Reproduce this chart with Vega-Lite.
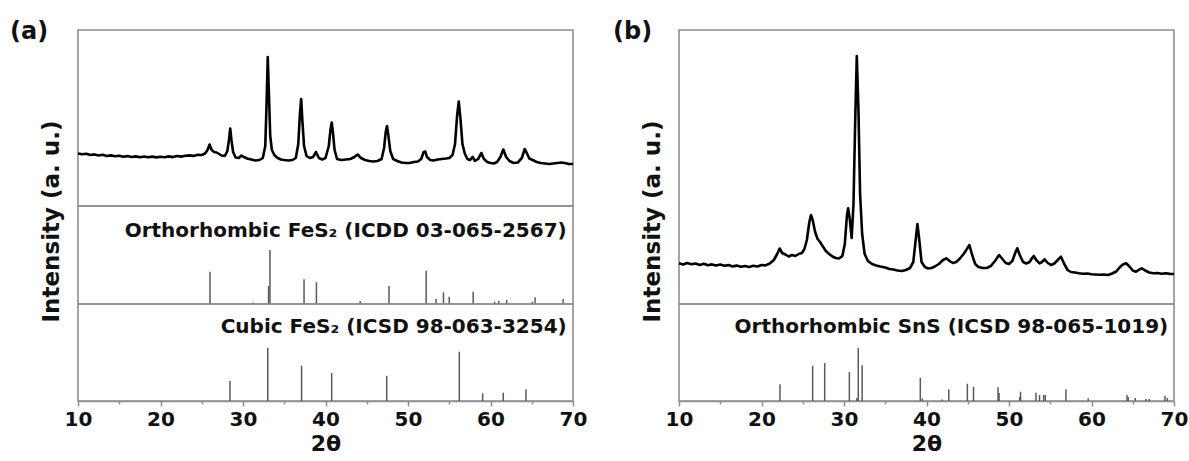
{
  "$schema": "https://vega.github.io/schema/vega-lite/v6.json",
  "autosize": {"type": "pad"},
  "padding": {"left": 10, "top": 20, "right": 5, "bottom": 5},
  "background": "white",
  "spacing": 25,
  "config": {
    "view": {"stroke": "#8f8f8f", "strokeWidth": 1.6},
    "font": "DejaVu Sans",
    "axis": {"grid": false, "labelFont": "DejaVu Sans", "titleFont": "DejaVu Sans", "labelFontWeight": "bold", "titleFontWeight": "bold", "labelColor": "#111", "titleColor": "#111"},
    "title": {"font": "DejaVu Sans", "fontWeight": "bold", "fontSize": 24, "color": "#111"}
  },
  "datasets": {
    "curveA": [
      {"t":10.0,"i":52.5},{"t":10.5,"i":51.8},{"t":11.0,"i":52.3},{"t":11.5,"i":51.0},{"t":12.0,"i":51.6},{"t":12.5,"i":50.5},{"t":13.0,"i":51.2},{"t":13.5,"i":50.0},{"t":14.0,"i":50.6},{"t":14.5,"i":49.8},{"t":15.0,"i":50.3},{"t":15.5,"i":49.2},{"t":16.0,"i":49.9},{"t":16.5,"i":49.0},{"t":17.0,"i":49.6},{"t":17.5,"i":48.8},{"t":18.0,"i":49.5},{"t":18.5,"i":48.7},{"t":19.0,"i":49.4},{"t":19.5,"i":48.6},{"t":20.0,"i":49.3},{"t":20.5,"i":48.8},{"t":21.0,"i":49.6},{"t":21.5,"i":48.9},{"t":22.0,"i":50.0},{"t":22.5,"i":49.4},{"t":23.0,"i":50.2},{"t":23.5,"i":50.6},{"t":24.0,"i":50.1},{"t":24.5,"i":51.2},{"t":25.0,"i":51.0},{"t":25.4,"i":52.5},{"t":25.7,"i":56},{"t":25.95,"i":61.5},{"t":26.2,"i":56},{"t":26.5,"i":54},{"t":26.8,"i":53.5},{"t":27.1,"i":52},{"t":27.4,"i":50.5},{"t":27.8,"i":50},{"t":28.1,"i":55},{"t":28.3,"i":66},{"t":28.45,"i":77.5},{"t":28.6,"i":66},{"t":28.8,"i":54},{"t":29.1,"i":48.5},{"t":29.5,"i":48},{"t":29.8,"i":50.5},{"t":30.1,"i":49},{"t":30.5,"i":47.5},{"t":31.0,"i":46.5},{"t":31.5,"i":45.5},{"t":32.0,"i":46},{"t":32.4,"i":48},{"t":32.7,"i":60},{"t":32.85,"i":100},{"t":33.0,"i":149},{"t":33.15,"i":110},{"t":33.3,"i":70},{"t":33.5,"i":56},{"t":33.8,"i":51},{"t":34.2,"i":48},{"t":34.6,"i":46.5},{"t":35.0,"i":46},{"t":35.5,"i":45.5},{"t":36.0,"i":46},{"t":36.4,"i":48},{"t":36.7,"i":62},{"t":36.9,"i":92},{"t":37.05,"i":107},{"t":37.2,"i":85},{"t":37.4,"i":60},{"t":37.7,"i":50},{"t":38.1,"i":48},{"t":38.5,"i":49},{"t":38.85,"i":54},{"t":39.2,"i":48},{"t":39.6,"i":46.5},{"t":40.0,"i":48},{"t":40.4,"i":60},{"t":40.6,"i":76},{"t":40.75,"i":83.5},{"t":40.9,"i":74},{"t":41.1,"i":56},{"t":41.4,"i":47},{"t":41.9,"i":46},{"t":42.5,"i":46.5},{"t":43.0,"i":47},{"t":43.5,"i":49},{"t":43.9,"i":51.5},{"t":44.3,"i":48},{"t":44.8,"i":46},{"t":45.3,"i":45},{"t":45.8,"i":44.5},{"t":46.3,"i":45},{"t":46.8,"i":47},{"t":47.1,"i":58},{"t":47.3,"i":74},{"t":47.45,"i":80},{"t":47.6,"i":72},{"t":47.85,"i":55},{"t":48.2,"i":47},{"t":48.7,"i":45},{"t":49.2,"i":43.5},{"t":49.7,"i":43},{"t":50.2,"i":43},{"t":50.7,"i":44},{"t":51.2,"i":44.5},{"t":51.6,"i":47},{"t":51.9,"i":54},{"t":52.1,"i":54.5},{"t":52.3,"i":49},{"t":52.7,"i":46},{"t":53.1,"i":45.5},{"t":53.6,"i":46.5},{"t":54.1,"i":47},{"t":54.6,"i":47.5},{"t":55.0,"i":48},{"t":55.4,"i":51},{"t":55.7,"i":62},{"t":55.95,"i":90},{"t":56.15,"i":104.5},{"t":56.35,"i":88},{"t":56.6,"i":62},{"t":56.9,"i":52},{"t":57.2,"i":47},{"t":57.5,"i":46},{"t":57.85,"i":49},{"t":58.1,"i":45},{"t":58.5,"i":47},{"t":58.9,"i":53},{"t":59.2,"i":47},{"t":59.6,"i":44},{"t":60.0,"i":43},{"t":60.4,"i":42.5},{"t":60.8,"i":44},{"t":61.2,"i":49},{"t":61.55,"i":56.5},{"t":61.9,"i":49},{"t":62.3,"i":45},{"t":62.8,"i":43},{"t":63.3,"i":43.5},{"t":63.8,"i":48},{"t":64.15,"i":57},{"t":64.4,"i":53},{"t":64.7,"i":47.5},{"t":65.1,"i":46},{"t":65.6,"i":44},{"t":66.1,"i":43},{"t":66.6,"i":42.5},{"t":67.1,"i":42},{"t":67.6,"i":42.5},{"t":68.1,"i":43},{"t":68.6,"i":43.5},{"t":69.0,"i":43},{"t":69.5,"i":42},{"t":70.0,"i":42}
    ],
    "stickOrtho": [
      {"t":26.0,"i":32.3},{"t":31.25,"i":1.5},{"t":33.1,"i":18},{"t":33.27,"i":54},{"t":37.4,"i":24.7},{"t":38.9,"i":21.7},{"t":44.2,"i":3},{"t":47.7,"i":18},{"t":52.2,"i":33.3},{"t":53.4,"i":5},{"t":54.3,"i":11.7},{"t":55.0,"i":7.3},{"t":57.9,"i":12.3},{"t":60.5,"i":2.3},{"t":61.0,"i":3.3},{"t":61.96,"i":4},{"t":65.07,"i":2.3},{"t":65.4,"i":6.7},{"t":68.8,"i":5}
    ],
    "stickCubic": [
      {"t":28.42,"i":20},{"t":33.0,"i":53.3},{"t":37.1,"i":35.3},{"t":40.75,"i":28},{"t":47.42,"i":25.3},{"t":56.22,"i":49.3},{"t":59.05,"i":7.7},{"t":61.55,"i":8.3},{"t":64.3,"i":11.7}
    ],
    "curveB": [
      {"t":10.0,"i":40.7},{"t":10.5,"i":39.5},{"t":11.0,"i":41.0},{"t":11.5,"i":39.8},{"t":12.0,"i":40.5},{"t":12.5,"i":39.0},{"t":13.0,"i":40.2},{"t":13.5,"i":38.8},{"t":14.0,"i":39.6},{"t":14.5,"i":38.5},{"t":15.0,"i":39.4},{"t":15.5,"i":38.2},{"t":16.0,"i":38.9},{"t":16.5,"i":37.6},{"t":17.0,"i":38.4},{"t":17.5,"i":37.2},{"t":18.0,"i":38.0},{"t":18.5,"i":37.0},{"t":19.0,"i":38.2},{"t":19.5,"i":37.5},{"t":20.0,"i":39.0},{"t":20.5,"i":38.6},{"t":21.0,"i":40.5},{"t":21.5,"i":44},{"t":21.9,"i":50},{"t":22.2,"i":55.5},{"t":22.5,"i":51},{"t":22.9,"i":49.5},{"t":23.3,"i":47.5},{"t":23.7,"i":49},{"t":24.1,"i":48},{"t":24.5,"i":50},{"t":24.9,"i":51},{"t":25.2,"i":55},{"t":25.5,"i":64},{"t":25.8,"i":82},{"t":26.0,"i":89},{"t":26.2,"i":84},{"t":26.5,"i":72},{"t":26.8,"i":65},{"t":27.1,"i":62},{"t":27.4,"i":58},{"t":27.8,"i":53},{"t":28.2,"i":50},{"t":28.6,"i":47.5},{"t":29.0,"i":46},{"t":29.4,"i":45.5},{"t":29.8,"i":48},{"t":30.1,"i":60},{"t":30.35,"i":88},{"t":30.5,"i":95.7},{"t":30.7,"i":85},{"t":30.93,"i":66},{"t":31.15,"i":100},{"t":31.35,"i":180},{"t":31.55,"i":248},{"t":31.75,"i":195},{"t":31.95,"i":110},{"t":32.2,"i":70},{"t":32.5,"i":50},{"t":32.9,"i":43},{"t":33.4,"i":40},{"t":33.9,"i":38.5},{"t":34.4,"i":37.5},{"t":35.0,"i":36.5},{"t":35.5,"i":35},{"t":36.0,"i":34.5},{"t":36.5,"i":33.5},{"t":37.0,"i":33},{"t":37.5,"i":34},{"t":38.0,"i":36},{"t":38.4,"i":42},{"t":38.7,"i":65},{"t":38.9,"i":80},{"t":39.1,"i":66},{"t":39.4,"i":42},{"t":39.8,"i":37},{"t":40.2,"i":35.5},{"t":40.6,"i":36},{"t":41.0,"i":37.5},{"t":41.5,"i":40},{"t":42.0,"i":44},{"t":42.4,"i":45.7},{"t":42.8,"i":43},{"t":43.2,"i":41},{"t":43.6,"i":42},{"t":44.0,"i":45},{"t":44.5,"i":50},{"t":44.9,"i":55},{"t":45.2,"i":59},{"t":45.5,"i":50},{"t":45.9,"i":40},{"t":46.3,"i":37},{"t":46.8,"i":36},{"t":47.3,"i":36},{"t":47.8,"i":38},{"t":48.3,"i":43},{"t":48.8,"i":49},{"t":49.2,"i":45},{"t":49.6,"i":41},{"t":50.0,"i":40},{"t":50.4,"i":43},{"t":50.8,"i":52},{"t":51.0,"i":55.7},{"t":51.3,"i":49},{"t":51.7,"i":42},{"t":52.1,"i":40.5},{"t":52.5,"i":42},{"t":52.8,"i":46},{"t":53.0,"i":48},{"t":53.3,"i":44},{"t":53.7,"i":40.7},{"t":54.0,"i":42},{"t":54.3,"i":44.7},{"t":54.7,"i":41},{"t":55.1,"i":39},{"t":55.5,"i":40.5},{"t":55.9,"i":44},{"t":56.3,"i":47.3},{"t":56.7,"i":40},{"t":57.1,"i":34},{"t":57.5,"i":32},{"t":58.0,"i":31.5},{"t":58.5,"i":30.8},{"t":59.0,"i":30.2},{"t":59.5,"i":30.5},{"t":60.0,"i":29.8},{"t":60.5,"i":29.5},{"t":61.0,"i":29.2},{"t":61.5,"i":29.5},{"t":62.0,"i":29},{"t":62.5,"i":30.5},{"t":63.0,"i":32.5},{"t":63.4,"i":36.5},{"t":63.8,"i":39.5},{"t":64.2,"i":40.7},{"t":64.6,"i":37.5},{"t":65.0,"i":33.5},{"t":65.4,"i":32.3},{"t":65.8,"i":34.5},{"t":66.1,"i":35.7},{"t":66.5,"i":33.5},{"t":67.0,"i":31.5},{"t":67.5,"i":30.7},{"t":68.0,"i":31},{"t":68.5,"i":30.2},{"t":69.0,"i":30.8},{"t":69.5,"i":30.1},{"t":70.0,"i":30}
    ],
    "stickSnS": [
      {"t":22.24,"i":16.7},{"t":26.2,"i":35.3},{"t":27.66,"i":38},{"t":30.65,"i":29},{"t":31.55,"i":3},{"t":31.73,"i":53.3},{"t":32.2,"i":35.7},{"t":39.25,"i":23.3},{"t":39.5,"i":2.7},{"t":41.9,"i":1.5},{"t":42.7,"i":11.7},{"t":44.95,"i":17.3},{"t":45.7,"i":14},{"t":48.67,"i":13.7},{"t":48.8,"i":8},{"t":51.3,"i":4},{"t":51.4,"i":9.3},{"t":53.27,"i":8.3},{"t":53.7,"i":6},{"t":54.2,"i":6},{"t":54.4,"i":6},{"t":56.9,"i":11.7},{"t":59.6,"i":2.7},{"t":64.3,"i":6},{"t":64.45,"i":4},{"t":65.3,"i":3},{"t":66.6,"i":2},{"t":67.0,"i":2},{"t":68.9,"i":5.3},{"t":69.2,"i":3}
    ]
  },
  "hconcat": [
    {
      "title": {"text": "(a)", "anchor": "start", "frame": "group", "dx": -68, "dy": 15, "offset": 0},
      "bounds": "flush",
      "spacing": 0,
      "vconcat": [
        {
          "width": 495, "height": 176,
          "data": {"name": "curveA"},
          "mark": {"type": "line", "color": "#000", "strokeWidth": 2.6, "strokeJoin": "round"},
          "encoding": {
            "x": {"field": "t", "type": "quantitative", "scale": {"domain": [10, 70], "nice": false}, "axis": null},
            "y": {"field": "i", "type": "quantitative", "scale": {"domain": [0, 176], "nice": false}, "axis": {"title": "Intensity (a. u.)", "labels": false, "ticks": false, "domain": false, "titleY": 191, "titlePadding": 15, "titleFontSize": 23}}
          }
        },
        {
          "width": 495, "height": 98,
          "layer": [
            {
              "data": {"name": "stickOrtho"},
              "mark": {"type": "rule", "color": "#5a5a5a", "strokeWidth": 1.5},
              "encoding": {
                "x": {"field": "t", "type": "quantitative", "scale": {"domain": [10, 70], "nice": false}, "axis": null},
                "y": {"field": "i", "type": "quantitative", "scale": {"domain": [0, 98], "nice": false}, "axis": null},
                "y2": {"datum": 0}
              }
            },
            {
              "data": {"values": [{}]},
              "mark": {"type": "text", "align": "right", "baseline": "alphabetic", "fontSize": 20, "font": "DejaVu Sans", "fontWeight": "bold", "color": "#111"},
              "encoding": {
                "x": {"datum": 69.24, "type": "quantitative"},
                "y": {"datum": 67.3, "type": "quantitative"},
                "text": {"value": "Orthorhombic FeS₂ (ICDD 03-065-2567)"}
              }
            }
          ]
        },
        {
          "width": 495, "height": 97,
          "layer": [
            {
              "data": {"name": "stickCubic"},
              "mark": {"type": "rule", "color": "#5a5a5a", "strokeWidth": 1.5},
              "encoding": {
                "x": {"field": "t", "type": "quantitative", "scale": {"domain": [10, 70], "nice": false},
                  "axis": {"title": "2θ", "values": [10, 15, 20, 25, 30, 35, 40, 45, 50, 55, 60, 65, 70], "labelExpr": "datum.value % 10 === 0 ? datum.label : ''", "labelFlush": false, "labelOverlap": false, "labelFontSize": 20, "titleFontSize": 22, "domainColor": "#8f8f8f", "domainWidth": 1.6, "tickColor": "#8f8f8f", "tickWidth": 1.5, "tickSize": {"condition": {"test": "datum.value % 10 !== 0", "value": 3}, "value": 5}, "labelPadding": 3, "titlePadding": 4}},
                "y": {"field": "i", "type": "quantitative", "scale": {"domain": [0, 97], "nice": false}, "axis": null},
                "y2": {"datum": 0}
              }
            },
            {
              "data": {"values": [{}]},
              "mark": {"type": "text", "align": "right", "baseline": "alphabetic", "fontSize": 20, "font": "DejaVu Sans", "fontWeight": "bold", "color": "#111"},
              "encoding": {
                "x": {"datum": 69.24, "type": "quantitative"},
                "y": {"datum": 67.7, "type": "quantitative"},
                "text": {"value": "Cubic FeS₂ (ICSD 98-063-3254)"}
              }
            }
          ]
        }
      ]
    },
    {
      "title": {"text": "(b)", "anchor": "start", "frame": "group", "dx": -66, "dy": 15, "offset": 0},
      "bounds": "flush",
      "spacing": 0,
      "vconcat": [
        {
          "width": 495, "height": 274,
          "data": {"name": "curveB"},
          "mark": {"type": "line", "color": "#000", "strokeWidth": 2.6, "strokeJoin": "round"},
          "encoding": {
            "x": {"field": "t", "type": "quantitative", "scale": {"domain": [10, 70], "nice": false}, "axis": null},
            "y": {"field": "i", "type": "quantitative", "scale": {"domain": [0, 274], "nice": false}, "axis": {"title": "Intensity (a. u.)", "labels": false, "ticks": false, "domain": false, "titleY": 191, "titlePadding": 15, "titleFontSize": 23}}
          }
        },
        {
          "width": 495, "height": 97,
          "layer": [
            {
              "data": {"name": "stickSnS"},
              "mark": {"type": "rule", "color": "#5a5a5a", "strokeWidth": 1.5},
              "encoding": {
                "x": {"field": "t", "type": "quantitative", "scale": {"domain": [10, 70], "nice": false},
                  "axis": {"title": "2θ", "values": [10, 15, 20, 25, 30, 35, 40, 45, 50, 55, 60, 65, 70], "labelExpr": "datum.value % 10 === 0 ? datum.label : ''", "labelFlush": false, "labelOverlap": false, "labelFontSize": 20, "titleFontSize": 22, "domainColor": "#8f8f8f", "domainWidth": 1.6, "tickColor": "#8f8f8f", "tickWidth": 1.5, "tickSize": {"condition": {"test": "datum.value % 10 !== 0", "value": 3}, "value": 5}, "labelPadding": 3, "titlePadding": 4}},
                "y": {"field": "i", "type": "quantitative", "scale": {"domain": [0, 97], "nice": false}, "axis": null},
                "y2": {"datum": 0}
              }
            },
            {
              "data": {"values": [{}]},
              "mark": {"type": "text", "align": "right", "baseline": "alphabetic", "fontSize": 20, "font": "DejaVu Sans", "fontWeight": "bold", "color": "#111"},
              "encoding": {
                "x": {"datum": 69.3, "type": "quantitative"},
                "y": {"datum": 67.7, "type": "quantitative"},
                "text": {"value": "Orthorhombic SnS (ICSD 98-065-1019)"}
              }
            }
          ]
        }
      ]
    }
  ]
}
